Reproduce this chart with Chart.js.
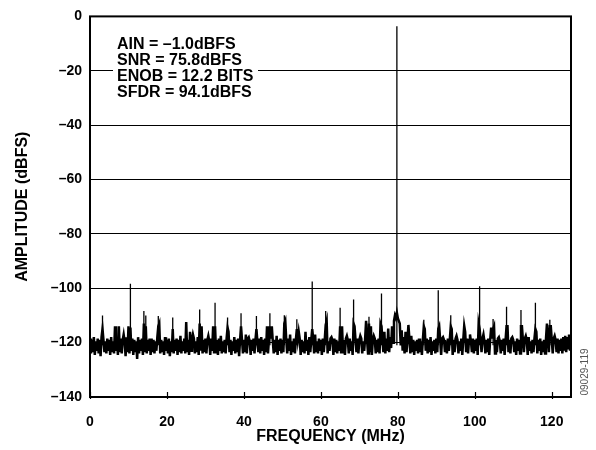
<!DOCTYPE html>
<html><head><meta charset="utf-8">
<script src="https://cdn.jsdelivr.net/npm/chart.js@4/dist/chart.umd.min.js"></script>
<style>html,body{margin:0;padding:0;background:#fff;overflow:hidden}</style>
</head><body>
<canvas id="c" width="596" height="450" style="display:block;width:596px;height:450px"></canvas>
<script>
// FFT bins: first bin frequency and bin spacing (MHz)
const FREQ_START_MHZ = 0;
const BIN_WIDTH_MHZ = 0.25;

// Noise floor amplitude per bin (dBFS)
const noiseDbfs = [
-118.5,-124,-119,-123.5,-118,-124.5,-119.5,-123,-118.5,-124,-119,-125,-118,-115,-119,-123.5,-119.5,-124,-118.5,-123,
-119,-124.5,-118,-123.5,-119.5,-124,-114,-123,-119,-124.5,-114,-123.5,-118.5,-124,-119,-117,-119.5,-125,-118,-123.5,
-114,-124,-114.5,-123,-118.5,-124.5,-119,-123.5,-119.5,-126,-118,-124,-119,-123,-118.5,-124.5,-113,-123.5,-114,-124,
-119,-123,-118.5,-124.5,-118.5,-123.5,-119,-124,-119.5,-123,-118,-114,-113,-124,-119,-123.5,-119.5,-124.5,-118,-123,
-119,-124,-118.5,-125,-119.5,-123.5,-115,-124,-119,-123,-118.5,-124.5,-119,-123.5,-117.5,-124,-119.5,-123,-118.5,-124,
-112.4,-123.5,-119,-124.5,-116,-123,-119,-117,-118.5,-124,-119.5,-123.5,-118,-124.5,-113,-123,-114,-124,-119,-123.5,
-118.5,-124,-119,-117.5,-119.5,-124.5,-118.5,-123,-114,-124,-114,-123.5,-119,-124.5,-118.5,-123,-117.5,-124,-119.5,-123.5,
-119,-124,-118.5,-114.5,-116,-123.5,-119,-124.5,-119.5,-123,-118,-124,-119,-123.5,-118.5,-125,-119,-114,-114,-124,
-119,-123.5,-117,-124,-118.5,-118,-119.5,-124.5,-119,-123,-118.5,-124,-119,-115,-119.5,-123.5,-118.5,-124,-118,-123,
-119,-124.5,-118.5,-123.5,-114,-124,-119,-114,-118.5,-114,-119.5,-124,-119,-123.5,-117.5,-124.5,-119,-123,-118.5,-124,
-119,-123.5,-113,-112,-119,-124,-118.5,-123,-117,-124.5,-119.5,-123.5,-118.5,-124,-119,-115,-119,-116,-118.5,-124.5,
-119,-123.5,-119.5,-124,-116,-123,-119,-124.5,-118,-123.5,-119,-115,-118.5,-124,-117,-123.5,-119.5,-124,-118.5,-123,
-119,-124.5,-118.5,-123.5,-119,-113.5,-112,-124,-119.5,-123,-118.5,-118,-119,-124.5,-118.5,-123.5,-119,-124,-119.5,-123,
-114,-124,-114,-123.5,-119,-124.5,-118.5,-117.5,-119,-124,-118.5,-123,-119.5,-124.5,-113,-114,-119,-123.5,-118.5,-124,
-119,-117.5,-118.5,-124,-119.5,-123,-118.5,-112,-119,-124,-113,-123.5,-114,-124.5,-119,-117.5,-118.5,-124,-119,-123.5,
-118.5,-124,-113,-114,-119,-123.5,-116,-124,-118.5,-123,-114.8,-123.5,-118,-122,-114,-120,-112,-110,-111,-109,
-111,-112,-113,-121,-115.5,-123,-118,-124,-116,-123.5,-119,-113.5,-118.5,-124,-117.5,-123.5,-119,-124.5,-119.5,-123,
-119,-124,-118.5,-123.5,-119.5,-124.5,-119,-114,-115,-123,-118.5,-124,-119,-123.5,-118,-124.5,-119.5,-123,-119,-124,
-118.5,-123.5,-115,-114,-119,-124.5,-118.5,-118,-119,-123.5,-119.5,-124,-118.5,-123,-119,-114,-115,-124.5,-119,-123.5,
-118.5,-117.5,-119,-124,-119.5,-123,-118.5,-124.5,-119,-113.8,-116,-123.5,-118.5,-124,-119,-117,-119.5,-123.5,-118.5,-124,
-119,-123,-118.5,-124.5,-113,-115,-119,-123.5,-118.5,-117,-119.5,-124,-119,-123.5,-118.5,-124.5,-119,-114.5,-118.5,-115,
-114,-124,-119,-123.5,-118.5,-118,-119.5,-124,-119,-123,-118.5,-124.5,-119,-114,-114,-123.5,-119,-124,-118.5,-118,
-119,-123.5,-119.5,-124.5,-118.5,-123,-119,-124,-114,-114,-119,-123.5,-118.5,-117.5,-119,-124.5,-118,-123,-119.5,-124,
-119,-123.5,-118.5,-115,-116,-124,-119,-123,-118.5,-124.5,-119.5,-123.5,-119,-124,-118.5,-113,-119,-123.5,-114,-114,
-119,-124,-118.5,-117.5,-119,-123.5,-118.5,-124,-119,-123,-118.5,-124,-118,-123,-117.5,-123.5,-118,-122.5,-117,-123,
-118
];

// Discrete spurs and the fundamental: frequency (MHz) and peak level (dBFS)
const spurFreqMHz = [3.25, 10.5, 14.0, 14.5, 17.75, 21.5, 28.5, 32.5, 35.75, 39.25, 43.25, 46.75, 50.5, 53.75, 57.75,
  61.25, 65.0, 68.5, 72.5, 75.75, 79.75, 86.75, 90.5, 93.75, 101.25, 104.75, 108.25, 112.0, 115.75, 119.5];
const spurLevelDbfs = [-110, -98.3, -108.4, -110, -110.2, -110.8, -107.8, -105.3, -110.8, -109.2, -110.2, -109.2, -109.9, -111.4, -97.5,
  -108.4, -107.2, -104.1, -110.5, -101.9, -3.6, -111.6, -100.7, -109.9, -99.3, -111.3, -106.8, -108, -105.3, -111.6];
const SPUR_BASE_DBFS = -121;

const xTickValues = [0, 20, 40, 60, 80, 100, 120];
const yTickValues = [0, -20, -40, -60, -80, -100, -120, -140];
const xAxisTitle = "FREQUENCY (MHz)";
const yAxisTitle = "AMPLITUDE (dBFS)";
const annotationLines = ["AIN = –1.0dBFS", "SNR = 75.8dBFS", "ENOB = 12.2 BITS", "SFDR = 94.1dBFS"];
const figureId = "09029-119";

const FONT = "'Liberation Sans', Arial, Helvetica, sans-serif";

const noisePoints = noiseDbfs.map((v, i) => ({ x: FREQ_START_MHZ + i * BIN_WIDTH_MHZ, y: v }));
const spurPoints = [];
spurFreqMHz.forEach((f, i) => {
  spurPoints.push({ x: f, y: SPUR_BASE_DBFS }, { x: f, y: spurLevelDbfs[i] }, { x: f, y: null });
});

const decorPlugin = {
  id: 'decor',
  afterDraw(chart) {
    const { ctx, chartArea: a, scales: { x } } = chart;
    ctx.save();
    ctx.strokeStyle = '#000';
    ctx.lineWidth = 1.2;
    xTickValues.forEach(v => {
      const px = Math.round(x.getPixelForValue(v)) + 0.5;
      ctx.beginPath();
      ctx.moveTo(px, a.bottom - 5);
      ctx.lineTo(px, a.bottom + 2);
      ctx.stroke();
    });
    ctx.lineWidth = 2;
    ctx.strokeRect(a.left, a.top, a.right - a.left, a.bottom - a.top);
    ctx.fillStyle = '#fff';
    ctx.fillRect(a.left + 23, a.top + 18, 145, 68);
    ctx.fillStyle = '#000';
    ctx.font = 'bold 16px ' + FONT;
    ctx.textBaseline = 'alphabetic';
    ctx.textAlign = 'left';
    annotationLines.forEach((t, i) => ctx.fillText(t, a.left + 27, a.top + 33 + i * 16));
    ctx.translate(a.right + 14, 372);
    ctx.rotate(-Math.PI / 2);
    ctx.fillStyle = '#555';
    ctx.font = '10px ' + FONT;
    ctx.textAlign = 'center';
    ctx.textBaseline = 'middle';
    ctx.fillText(figureId, 0, 0);
    ctx.restore();
  }
};

new Chart(document.getElementById('c'), {
  type: 'line',
  data: {
    datasets: [{
      data: noisePoints,
      borderColor: '#000',
      borderWidth: 2.5,
      borderJoinStyle: 'miter',
      pointRadius: 0,
      tension: 0,
      fill: false
    }, {
      data: spurPoints,
      borderColor: '#000',
      borderWidth: 1.3,
      pointRadius: 0,
      tension: 0,
      spanGaps: false,
      fill: false
    }]
  },
  options: {
    responsive: false,
    animation: false,
    devicePixelRatio: 1,
    events: [],
    layout: { padding: { top: 12, right: 25, left: 0, bottom: 0 } },
    plugins: { legend: { display: false }, tooltip: { enabled: false } },
    scales: {
      x: {
        type: 'linear',
        min: 0,
        max: 125,
        afterBuildTicks: s => { s.ticks = xTickValues.map(v => ({ value: v })); },
        afterFit: s => { s.height = 53; },
        grid: { display: false },
        border: { display: false },
        ticks: {
          color: '#000',
          padding: 9,
          maxRotation: 0,
          autoSkip: false,
          font: { family: FONT, size: 14, weight: 'bold' },
          callback: v => String(v)
        },
        title: {
          display: true,
          text: xAxisTitle,
          color: '#000',
          font: { family: FONT, size: 16, weight: 'bold', lineHeight: 1.2 },
          padding: { top: 0, bottom: 4 }
        }
      },
      y: {
        type: 'linear',
        min: -140,
        max: 0,
        afterBuildTicks: s => { s.ticks = yTickValues.map(v => ({ value: v })); },
        afterFit: s => { s.width = 90; },
        grid: { color: '#000', lineWidth: 1, drawTicks: false },
        border: { display: false },
        ticks: {
          color: '#000',
          padding: 8,
          autoSkip: false,
          font: { family: FONT, size: 14, weight: 'bold' },
          callback: v => (v < 0 ? '–' + Math.abs(v) : String(v))
        },
        title: {
          display: true,
          text: yAxisTitle,
          color: '#000',
          font: { family: FONT, size: 16, weight: 'bold', lineHeight: 1.2 },
          padding: { top: 13, bottom: 0 }
        }
      }
    }
  },
  plugins: [decorPlugin]
});
</script>
</body></html>
